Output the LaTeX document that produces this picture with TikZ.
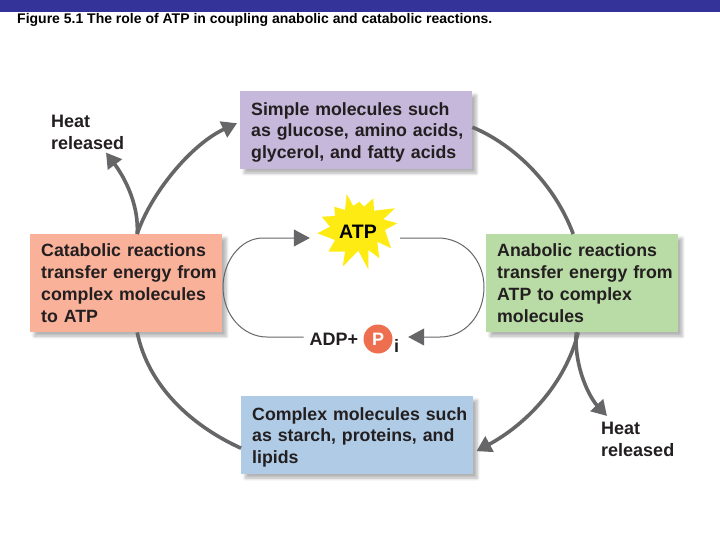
\documentclass[tikz,border=0pt]{standalone}
\usepackage{fontspec}
\setmainfont{Liberation Sans}
\usetikzlibrary{arrows.meta, shadows.blur, positioning}

% Define colors
\definecolor{bandcolor}{HTML}{333399}
\definecolor{simplecolor}{HTML}{C5B8DA}
\definecolor{catacolor}{HTML}{F9B19A}
\definecolor{anacolor}{HTML}{B9DBA6}
\definecolor{complexcolor}{HTML}{AFCBE5}
\definecolor{arrowcolor}{HTML}{666668}
\definecolor{inkcolor}{HTML}{231F20}
\definecolor{starcolor}{HTML}{FFEB14}
\definecolor{pcolor}{HTML}{EE6F50}

% Left margin of the box text
\newcommand{\boxlines}[1]{\leftskip=11pt\relax #1\par}
% Lifts a three line box to the height it has in the figure
\newcommand{\toplift}{\rule{0pt}{17pt}}

\tikzset{
    molbox/.style={rectangle, inner xsep=0pt, inner ysep=0pt, align=left, anchor=north west,
        text=inkcolor, font=\fontsize{17.75}{21.7}\selectfont\bfseries,
        blur shadow={shadow xshift=4pt, shadow yshift=-4pt, shadow blur steps=6, shadow blur radius=3pt, shadow opacity=30}},
    heatlabel/.style={inner sep=0pt, align=left, anchor=north west, text=inkcolor,
        font=\fontsize{18}{21.6}\selectfont\bfseries},
    bigarrow/.style={draw=arrowcolor, line width=3.6pt, -{Triangle[length=15pt,width=17pt]}},
    bigline/.style={draw=arrowcolor, line width=3.6pt},
    thinarrow/.style={draw=arrowcolor, line width=1pt, -{Triangle[length=16pt,width=17pt]}}
}

\begin{document}
\begin{tikzpicture}[x=1pt, y=-1pt]
\useasboundingbox (0,0) rectangle (720,540);

% Band and title
\fill[bandcolor] (0,0) rectangle (720,12.5);
\node[inner sep=0pt, anchor=base west, font=\fontsize{14}{16}\selectfont\bfseries, text=black] (title) at (17,24)
    {Figure 5.1 The role of ATP in coupling anabolic and catabolic reactions.};

% Boxes
\node[molbox, fill=simplecolor, text width=232pt, minimum height=78pt] (simple) at (240,91)
    {\boxlines{\toplift Simple molecules such\\as glucose, amino acids,\\glycerol, and fatty acids}};
\node[molbox, fill=catacolor, text width=192pt, minimum height=98pt] (catabolic) at (30,234)
    {\boxlines{Catabolic reactions\\transfer energy from\\complex molecules\\to ATP}};
\node[molbox, fill=anacolor, text width=192pt, minimum height=98pt] (anabolic) at (486,234)
    {\boxlines{Anabolic reactions\\transfer energy from\\ATP to complex\\molecules}};
\node[molbox, fill=complexcolor, text width=232pt, minimum height=78pt] (complex) at (241,396)
    {\boxlines{\toplift Complex molecules such\\as starch, proteins, and\\lipids}};

% Heat labels
\node[heatlabel] (heatleft) at (51,115) {Heat\\released};
\node[heatlabel] (heatright) at (601,422) {Heat\\released};

% Star burst
\fill[starcolor] (346.7,194) -- (353.3,206) -- (359.3,201.7) -- (364,206.7) -- (373.3,198.3)
    -- (374,210.7) -- (395,208.3) -- (383.3,219.3) -- (397.3,223.3) -- (385,230) -- (391,248.3)
    -- (377.3,241.7) -- (379.3,258.3) -- (368.3,250) -- (368.3,269.3) -- (358.3,250.7)
    -- (342.7,266.7) -- (345,251.7) -- (328.3,251.7) -- (335,240) -- (317.3,233.3)
    -- (330,226.7) -- (321.7,216.7) -- (335,216) -- (334.3,206.7) -- (345,210) -- cycle;
\node[minimum width=96pt, minimum height=24pt, inner sep=0pt, font=\fontsize{19.5}{22}\selectfont\bfseries, text=black] (atp) at (358,232) {ATP};

% ADP and phosphate
\node[inner xsep=6pt, inner ysep=0pt, font=\fontsize{18}{20}\selectfont\bfseries, text=inkcolor] (adp) at (334,339) {ADP+};
\node[circle, fill=pcolor, minimum size=29pt, inner sep=0pt, font=\fontsize{18}{20}\selectfont\bfseries, text=white] (phos) at (378,339) {P};
\node[inner xsep=0pt, inner ysep=0pt, minimum width=23pt, font=\fontsize{18}{20}\selectfont\bfseries, text=inkcolor] (pi) at (396.5,346) {i};

% Outer cycle
\draw[bigarrow] ([xshift=11pt]catabolic.north) .. controls (150,195) and (190,145) .. ([shift={(-3pt,7pt)}]simple.west);
\draw[bigarrow] ([xshift=11pt]catabolic.north) .. controls (139,205) and (125,178) .. ([shift={(55pt,-3pt)}]heatleft.south west);
\draw[bigline] ([yshift=3pt]simple.east) .. controls (515,145) and (555,185) .. ([xshift=-9pt]anabolic.north);
\draw[bigarrow] ([xshift=-4pt]anabolic.south) .. controls (565,385) and (525,425) .. ([shift={(3pt,-16pt)}]complex.east);
\draw[bigarrow] ([xshift=-6pt]anabolic.south) .. controls (574,368) and (590,398) .. ([shift={(6pt,6pt)}]heatright.north west);
\draw[bigline] ([xshift=11pt]catabolic.south) .. controls (148,385) and (190,425) .. ([yshift=-13pt]complex.west);

% Inner loop
\draw[thinarrow] ([yshift=2pt]adp.west) -- (267,337) .. controls (243,337) and (223,315) .. (223,287)
    .. controls (223,262) and (240,238) .. (263,238) -- ([yshift=-6pt]atp.west);
\draw[thinarrow] ([shift={(-6pt,-6pt)}]atp.east) -- (438,238) .. controls (464,238) and (484,260) .. (484,287)
    .. controls (484,315) and (465,337) .. (440,337) -- ([yshift=9pt]pi.east);

\end{tikzpicture}
\end{document}
